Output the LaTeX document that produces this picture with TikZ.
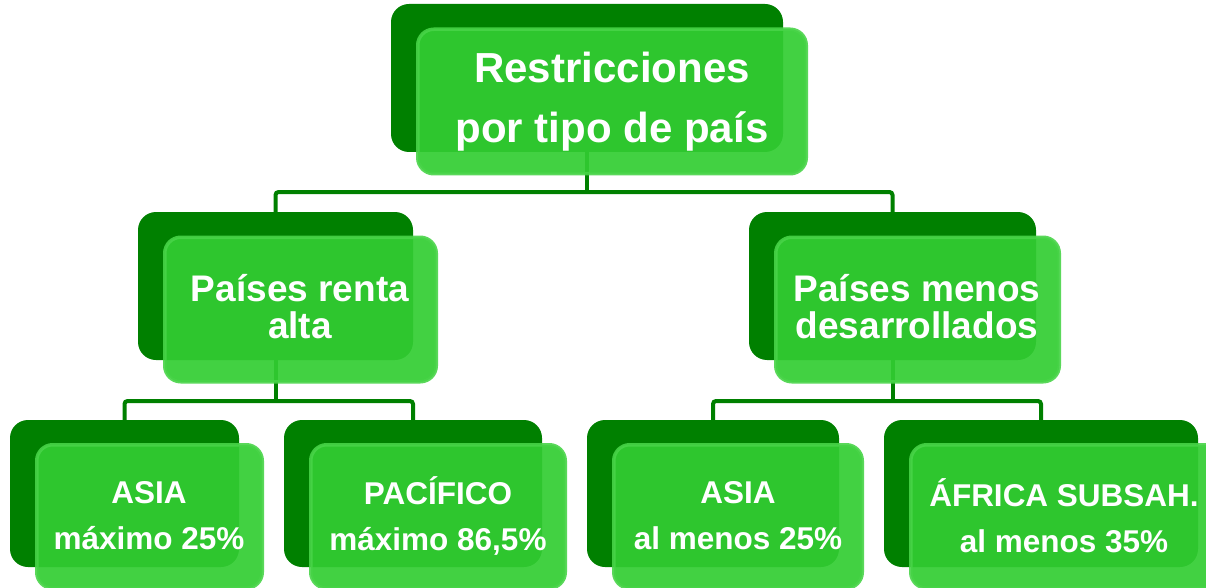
\documentclass[tikz,border=0pt]{standalone}
\usepackage{fontspec}
\setmainfont{Liberation Sans}
\definecolor{dkg}{RGB}{0,128,0}
\definecolor{ltg}{RGB}{50,205,50}
\definecolor{ltb}{RGB}{72,212,72}
\begin{document}
\begin{tikzpicture}[x=1pt,y=-1pt,
  darkbox/.style={rectangle, rounded corners=18pt, fill=dkg, inner sep=0pt, minimum height=148pt},
  litebox/.style={rectangle, rounded corners=16pt, fill=ltg, fill opacity=0.92, draw=ltb, draw opacity=0.9, line width=3.5pt, inner sep=0pt, minimum height=144.5pt},
  lbl/.style={text=white, align=center, inner sep=0pt},
  fbig/.style={font=\fontsize{42}{60}\selectfont\bfseries},
  fmid/.style={font=\fontsize{37}{37}\selectfont\bfseries},
  fsml/.style={font=\fontsize{31.5}{46}\selectfont\bfseries},
  conn/.style={draw=dkg, line width=4pt, rounded corners=3pt}
]
\useasboundingbox (0,0) rectangle (1206,588);
\clip (0,0) rectangle (1206,588);

% dark back boxes
\node[darkbox, minimum width=392pt] (t0d) at (587,78) {};
\node[darkbox, minimum width=275pt] (l2ad) at (275.5,286) {};
\node[darkbox, minimum width=287pt] (l2bd) at (892.5,286) {};
\node[darkbox, minimum width=229pt, minimum height=147pt] (l3ad) at (124.5,493.5) {};
\node[darkbox, minimum width=258pt, minimum height=147pt] (l3bd) at (413,493.5) {};
\node[darkbox, minimum width=252pt, minimum height=147pt] (l3cd) at (713,493.5) {};
\node[darkbox, minimum width=314pt, minimum height=147pt] (l3dd) at (1041,493.5) {};

% connectors
\coordinate (j0) at (587,192);
\coordinate (j1) at (275.5,401);
\coordinate (j2) at (892.5,401);
\draw[conn] (t0d.south) -- (j0);
\draw[conn] (l2ad.north) |- (j0) -| (l2bd.north);
\draw[conn] (l2ad.south) -- (j1);
\draw[conn] (l3ad.north) |- (j1) -| (l3bd.north);
\draw[conn] (l2bd.south) -- (j2);
\draw[conn] (l3cd.north) |- (j2) -| (l3dd.north);

% light front boxes
\node[litebox, minimum width=388.5pt] (t0) at (612,101.5) {};
\node[litebox, minimum width=271.5pt] (l2a) at (300.5,309.5) {};
\node[litebox, minimum width=283.5pt] (l2b) at (917.5,309.5) {};
\node[litebox, minimum width=225.5pt, minimum height=143.5pt] (l3a) at (149.5,516.5) {};
\node[litebox, minimum width=254.5pt, minimum height=143.5pt] (l3b) at (438,516.5) {};
\node[litebox, minimum width=248.5pt, minimum height=143.5pt] (l3c) at (738,516.5) {};
\node[litebox, minimum width=310.5pt, minimum height=143.5pt] (l3d) at (1066,516.5) {};

% labels
\node[lbl, fbig] (t0t) at (612,101.5) {Restricciones\\por tipo de país};
\node[lbl, fmid] (l2at) at (300,307) {Países renta\\alta};
\node[lbl, fmid] (l2bt) at (917,307) {Países menos\\desarrollados};
\node[lbl, fsml] (l3at) at (149,516) {ASIA\\máximo 25\%};
\node[lbl, fsml] (l3bt) at (438,516) {PACÍFICO\\máximo 86,5\%};
\node[lbl, fsml] (l3ct) at (738,516) {ASIA\\al menos 25\%};
\node[lbl, fsml] (l3dt) at (1064,516) {ÁFRICA SUBSAH.\\al menos 35\%};
\end{tikzpicture}
\end{document}
